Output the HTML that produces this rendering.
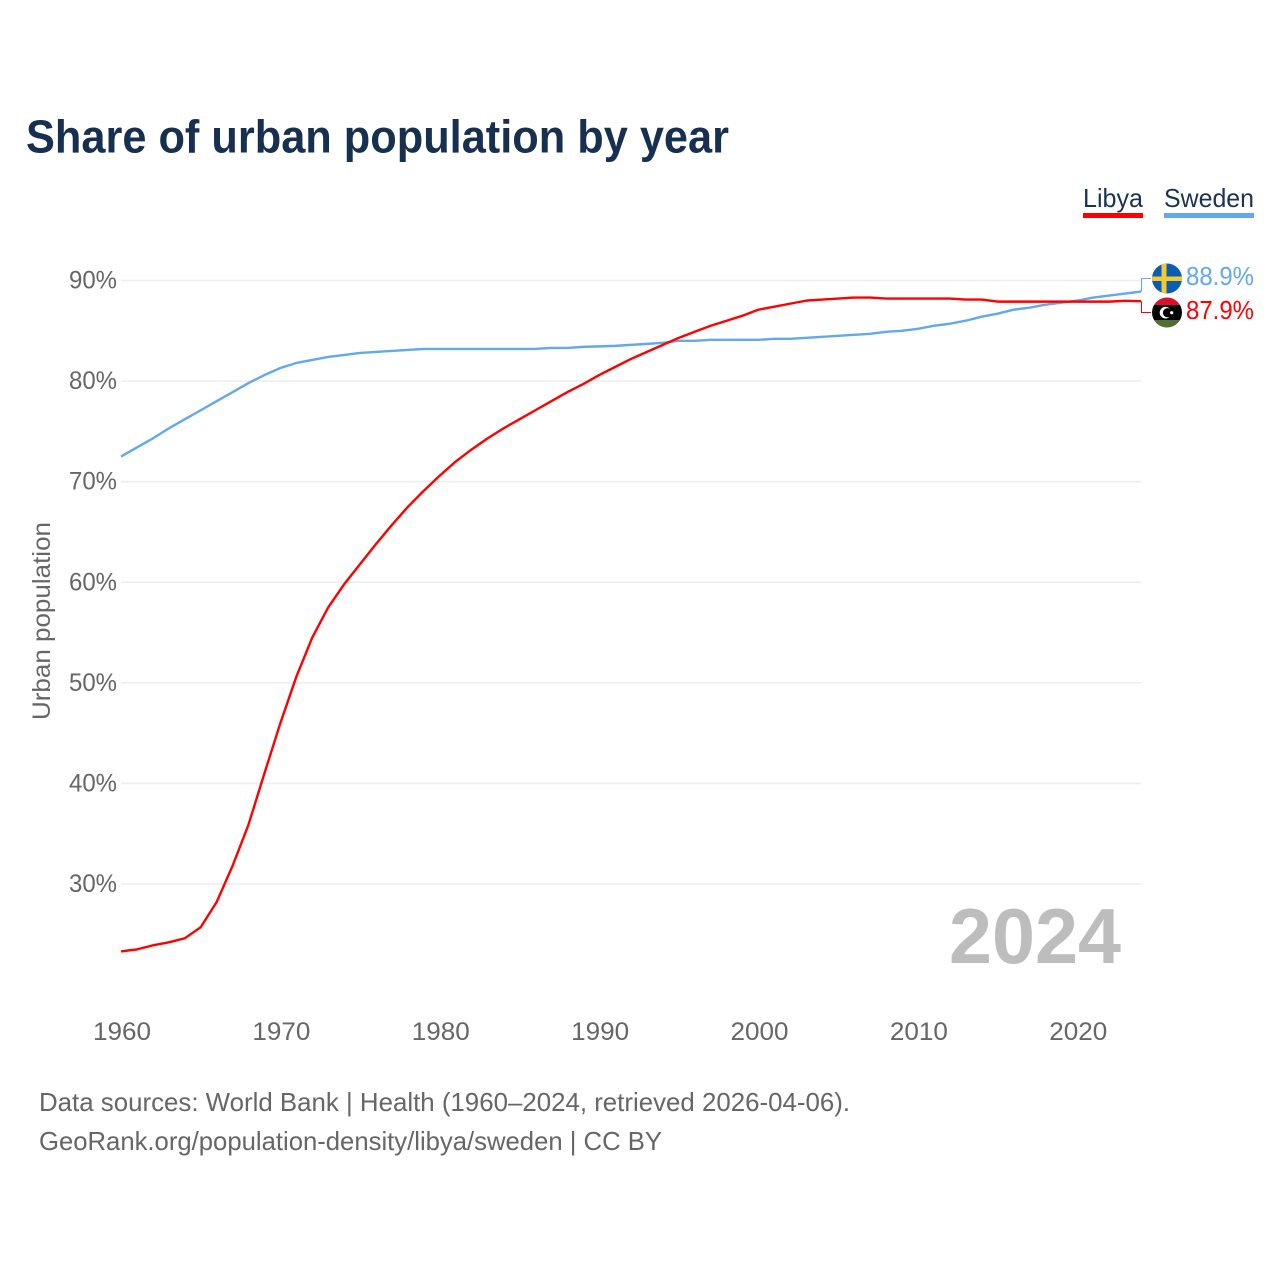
<!DOCTYPE html>
<html lang="en">
<head>
<meta charset="utf-8">
<title>Share of urban population by year</title>
<style>
html,body{margin:0;padding:0;background:#fff}
svg{display:block}
text{font-family:"Liberation Sans",sans-serif}
</style>
</head>
<body>
<svg id="chart" width="1280" height="1280" viewBox="0 0 1280 1280" xmlns="http://www.w3.org/2000/svg">
<defs>
<clipPath id="flag-clip-se"><circle cx="1167" cy="278.5" r="15"/></clipPath>
<clipPath id="flag-clip-ly"><circle cx="1167" cy="312.5" r="15"/></clipPath>
</defs>
<rect width="1280" height="1280" fill="#fff"/>
<text x="26" y="152.5" font-size="46" font-weight="700" fill="#18304f" textLength="703" lengthAdjust="spacingAndGlyphs">Share of urban population by year</text>
<g id="grid"></g>
<g id="ylabels"></g>
<g id="xlabels"></g>
<text transform="translate(50,621) rotate(-90)" text-anchor="middle" font-size="25" fill="#666" textLength="198" lengthAdjust="spacingAndGlyphs">Urban population</text>
<text x="949" y="963" font-size="78" font-weight="700" fill="#bdbdbd" textLength="172" lengthAdjust="spacingAndGlyphs">2024</text>
<g id="series"></g>

<g>
<text x="1083" y="207" font-size="26" fill="#1a3353" textLength="60" lengthAdjust="spacingAndGlyphs">Libya</text>
<rect x="1083" y="213" width="60" height="5" fill="#ff0000"/>
</g>
<g>
<text x="1164" y="207" font-size="26" fill="#1a3353" textLength="90" lengthAdjust="spacingAndGlyphs">Sweden</text>
<rect x="1164" y="213" width="90" height="5" fill="#62a8ec"/>
</g>

<g clip-path="url(#flag-clip-se)">
<rect x="1152" y="263" width="30" height="31" fill="#0b5cb3"/>
<rect x="1152" y="276.5" width="30" height="4.5" fill="#f6c92f"/>
<rect x="1161.5" y="263" width="5" height="31" fill="#f6c92f"/>
</g>
<g clip-path="url(#flag-clip-ly)">
<rect x="1152" y="297" width="30" height="10" fill="#d9102e"/>
<rect x="1152" y="305" width="30" height="15.5" fill="#000"/>
<rect x="1152" y="320" width="30" height="13" fill="#4f6f33"/>
<circle cx="1165.5" cy="312.7" r="5.8" fill="#fff"/>
<circle cx="1167.5" cy="312.7" r="4.6" fill="#000"/>
<circle cx="1171.7" cy="312.7" r="1.6" fill="#fff"/>
</g>

<text id="value-sweden" x="1186" y="285" font-size="26" fill="#62a8ec" textLength="68" lengthAdjust="spacingAndGlyphs"></text>
<text id="value-libya" x="1186" y="319" font-size="26" fill="#ff0000" textLength="68" lengthAdjust="spacingAndGlyphs"></text>

<text x="39" y="1111" font-size="26" fill="#666" textLength="811" lengthAdjust="spacingAndGlyphs">Data sources: World Bank | Health (1960–2024, retrieved 2026-04-06).</text>
<text x="39" y="1150" font-size="26" fill="#666" textLength="623" lengthAdjust="spacingAndGlyphs">GeoRank.org/population-density/libya/sweden | CC BY</text>
</svg>
<script>
const startYear = 1960;
const yTicks = [30, 40, 50, 60, 70, 80, 90];
const xTicks = [1960, 1970, 1980, 1990, 2000, 2010, 2020];
const libya = [23.3,23.5,23.9,24.2,24.6,25.7,28.2,31.8,35.9,41.0,46.0,50.6,54.5,57.5,59.8,61.8,63.8,65.7,67.5,69.1,70.6,72.0,73.2,74.3,75.3,76.2,77.1,78.0,78.9,79.7,80.6,81.4,82.2,82.9,83.6,84.3,84.9,85.5,86.0,86.5,87.1,87.4,87.7,88.0,88.1,88.2,88.3,88.3,88.2,88.2,88.2,88.2,88.2,88.1,88.1,87.9,87.9,87.9,87.9,87.9,87.9,87.9,87.9,87.98,87.94];
const sweden = [72.5,73.4,74.3,75.3,76.2,77.1,78.0,78.9,79.8,80.6,81.3,81.8,82.1,82.4,82.6,82.8,82.9,83.0,83.1,83.2,83.2,83.2,83.2,83.2,83.2,83.2,83.2,83.3,83.3,83.4,83.45,83.5,83.6,83.7,83.8,84.0,84.0,84.1,84.1,84.1,84.1,84.2,84.2,84.3,84.4,84.5,84.6,84.7,84.9,85.0,85.2,85.5,85.7,86.0,86.4,86.7,87.1,87.3,87.6,87.8,88.0,88.3,88.5,88.7,88.9];

const SVG_NS = 'http://www.w3.org/2000/svg';
const xOf = (year) => 121 + (year - startYear) * (1020 / 64);
const yOf = (value) => 884 - (value - 30) * (603.5 / 60);
const make = (tag, attrs, parent) => {
  const el = document.createElementNS(SVG_NS, tag);
  for (const key in attrs) el.setAttribute(key, attrs[key]);
  parent.appendChild(el);
  return el;
};

const grid = document.getElementById('grid');
const ylabels = document.getElementById('ylabels');
const xlabels = document.getElementById('xlabels');
const seriesGroup = document.getElementById('series');

yTicks.forEach((tick) => {
  const line = make('line', {x1: 121, x2: 1141, y1: yOf(tick), y2: yOf(tick), stroke: '#eeeeee', 'stroke-width': 1.6}, grid);
  
  
  const label = make('text', {x: 117, y: yOf(tick) + 8, 'text-anchor': 'end', 'font-size': 25, fill: '#666', textLength: 48, lengthAdjust: 'spacingAndGlyphs'}, ylabels);
  
  
  label.textContent = tick + '%';
});

xTicks.forEach((tick) => {
  const label = make('text', {x: xOf(tick) + 1, y: 1040, 'text-anchor': 'middle', 'font-size': 25, fill: '#666', textLength: 58, lengthAdjust: 'spacingAndGlyphs'}, xlabels);
  
  
  label.textContent = tick;
});

const pointsOf = (values) => values.map((v, i) => xOf(startYear + i).toFixed(2) + ',' + yOf(v).toFixed(2)).join(' ');

const swedenLine = make('polyline', {points: pointsOf(sweden), fill: 'none', stroke: '#62a8ec', 'stroke-width': 2.4, 'stroke-linejoin': 'round'}, seriesGroup);



const libyaLine = make('polyline', {points: pointsOf(libya), fill: 'none', stroke: '#ff0000', 'stroke-width': 2.4, 'stroke-linejoin': 'round'}, seriesGroup);



const lastSweden = sweden[sweden.length - 1];
const lastLibya = libya[libya.length - 1];
const lastX = xOf(startYear + sweden.length - 1) + 0.5;

const swedenLeader = make('polyline', {points: lastX + ',' + yOf(lastSweden) + ' ' + lastX + ',278.5 1151,278.5', fill: 'none', stroke: '#62a8ec', 'stroke-width': 1}, seriesGroup);



const libyaLeader = make('polyline', {points: lastX + ',' + yOf(lastLibya) + ' ' + lastX + ',312.5 1151,312.5', fill: 'none', stroke: '#ff0000', 'stroke-width': 1}, seriesGroup);



document.getElementById('value-sweden').textContent = lastSweden.toFixed(1) + '%';
document.getElementById('value-libya').textContent = lastLibya.toFixed(1) + '%';
</script>
</body>
</html>
